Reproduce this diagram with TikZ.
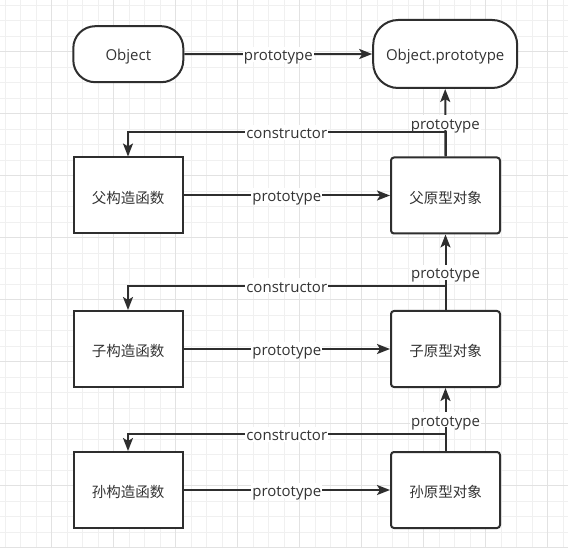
\documentclass[tikz,border=0pt]{standalone}
\usepackage{fontspec}
\setmainfont{Open Sans}
\newfontfamily\cjk{Noto Sans CJK SC}
\usetikzlibrary{arrows.meta,calc}
\definecolor{linecol}{HTML}{2E2E2E}
\definecolor{textcol}{HTML}{333333}
\definecolor{gridminor}{HTML}{F0F0F0}
\definecolor{gridmajor}{HTML}{E2E2E2}
\begin{document}
\begin{tikzpicture}[x=1pt,y=-1pt,
  minorgrid/.style={draw=gridminor,line width=0.8pt},
  majorgrid/.style={draw=gridmajor,line width=0.9pt},
  box/.style={draw=linecol,line width=2pt,fill=white,text=textcol,
    minimum width=109pt,minimum height=76pt,inner sep=0pt,
    text height=15.5pt,text depth=0pt,
    font=\cjk\fontsize{14.5}{17}\selectfont},
  protobox/.style={box,rounded corners=3pt},
  pill/.style={draw=linecol,line width=2pt,fill=white,text=textcol,inner sep=0pt,
    text height=13pt,text depth=0pt,
    font=\fontsize{15}{18}\selectfont},
  arr/.style={draw=linecol,line width=2pt,-{Stealth[length=13pt,width=10pt,inset=3pt]}},
  lbl/.style={fill=white,text=textcol,inner sep=1pt,
    text height=13pt,text depth=0pt,
    font=\fontsize{15}{18}\selectfont}]
\fill[white] (0,0) rectangle (568,548);
\useasboundingbox (0,0) rectangle (568,548);
% grid
\foreach \i in {0,...,36} {
  \pgfmathsetmacro\p{5.2+15.5*\i}
  \draw[minorgrid] (\p,0) -- (\p,548);
  \draw[minorgrid] (0,\p) -- (568,\p);
}
\foreach \i in {0,...,8} {
  \pgfmathsetmacro\p{51.7+62*\i}
  \draw[majorgrid] (\p,0) -- (\p,548);
  \draw[majorgrid] (0,\p) -- (568,\p);
}
% nodes
\node[pill,minimum width=110pt,minimum height=56pt,rounded corners=22pt] (obj) at (128.3,54.2) {Object};
\node[pill,minimum width=144pt,minimum height=68pt,rounded corners=25pt] (objp) at (445.2,54) {Object.prototype};
\node[box] (fa) at (128,195.5) {父构造函数};
\node[protobox] (pa) at (445.5,195.5) {父原型对象};
\node[box] (ca) at (128,349) {子构造函数};
\node[protobox] (pc) at (445.5,349) {子原型对象};
\node[box] (ga) at (128,490) {孙构造函数};
\node[protobox] (pg) at (445.5,490) {孙原型对象};
% horizontal prototype edges
\draw[arr] (obj.east) -- node[lbl]{prototype} (objp.west);
\draw[arr] (fa.east) -- node[lbl]{prototype} (pa.west);
\draw[arr] (ca.east) -- node[lbl]{prototype} (pc.west);
\draw[arr] (ga.east) -- node[lbl]{prototype} (pg.west);
% constructor edges
\draw[arr] (pa.north) -- ++(0,-24) -| node[lbl,pos=0.25]{constructor} (fa.north);
\draw[arr] (pc.north) -- ++(0,-24) -| node[lbl,pos=0.25]{constructor} (ca.north);
\draw[arr] (pg.north) -- ++(0,-17) -| node[lbl,pos=0.25]{constructor} (ga.north);
% vertical prototype edges
\draw[arr] (pa.north) -- node[lbl]{prototype} (objp.south);
\draw[arr] (pc.north) -- node[lbl]{prototype} (pa.south);
\draw[arr] (pg.north) -- node[lbl]{prototype} (pc.south);
\end{tikzpicture}
\end{document}
